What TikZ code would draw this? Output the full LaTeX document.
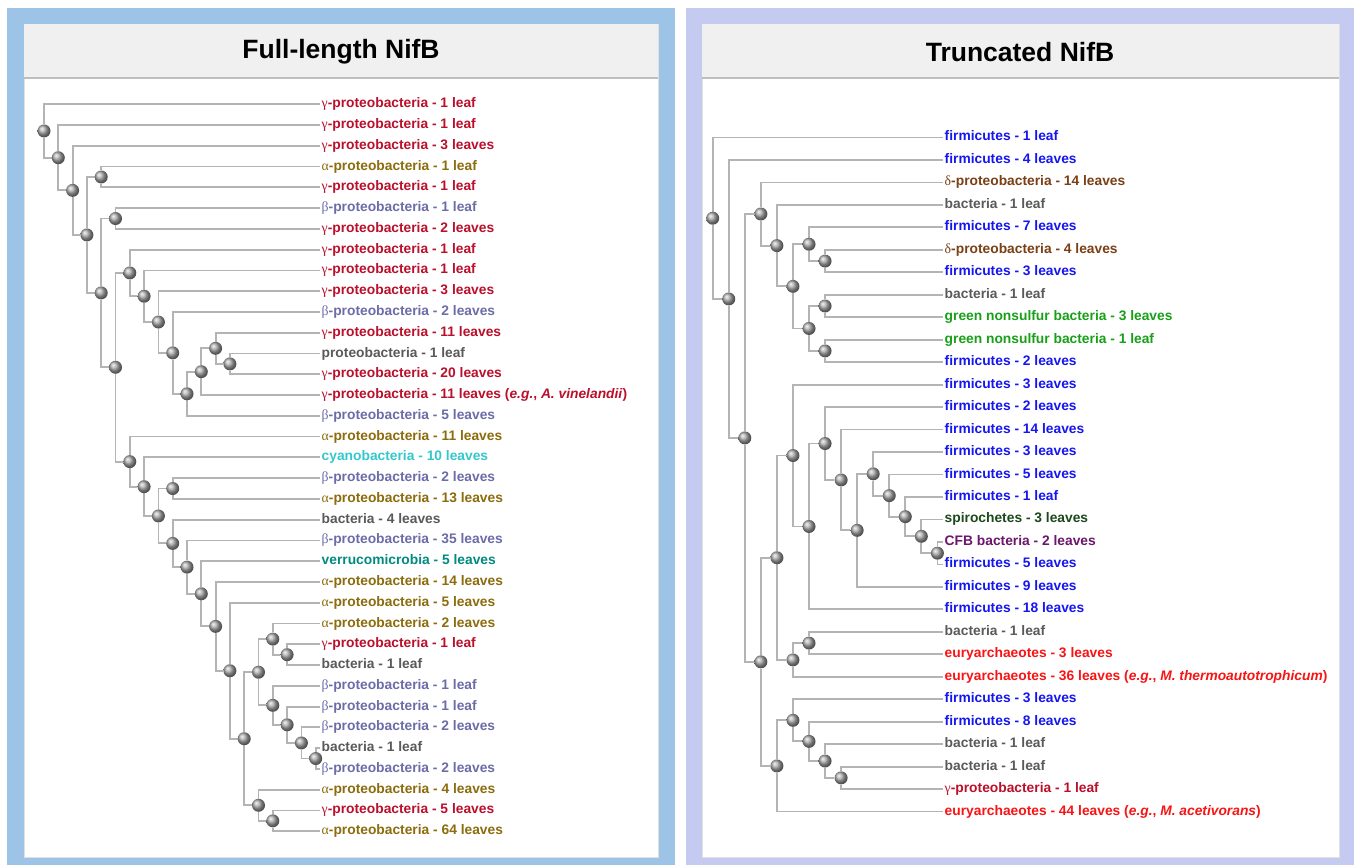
\documentclass[tikz,border=0pt]{standalone}
\usepackage{fontspec}
\setmainfont{Liberation Sans}
\newfontfamily\greekfont{Liberation Serif}

\definecolor{gamcol}{RGB}{186,16,44}
\definecolor{alpcol}{RGB}{140,108,12}
\definecolor{betcol}{RGB}{108,108,168}
\definecolor{delcol}{RGB}{122,64,22}
\definecolor{bactcol}{RGB}{90,90,90}
\definecolor{cyancol}{RGB}{52,200,205}
\definecolor{verrcol}{RGB}{0,138,128}
\definecolor{firmcol}{RGB}{22,22,240}
\definecolor{greencol}{RGB}{24,160,24}
\definecolor{spircol}{RGB}{28,72,28}
\definecolor{cfbcol}{RGB}{108,22,108}
\definecolor{eurycol}{RGB}{248,20,20}
\definecolor{leftrim}{RGB}{157,195,230}
\definecolor{rightrim}{RGB}{196,202,240}
\definecolor{headgray}{RGB}{240,240,240}
\definecolor{rulegray}{RGB}{190,190,190}
\definecolor{linegray}{RGB}{180,180,180}
\definecolor{ballgray}{RGB}{170,170,170}

\newcommand{\ggam}{{\greekfont\mdseries γ}}
\newcommand{\galp}{{\greekfont\mdseries α}}
\newcommand{\gbet}{{\greekfont\mdseries β}}
\newcommand{\gdel}{{\greekfont\mdseries δ}}

\pgfdeclarelayer{panel}
\pgfdeclarelayer{edges}
\pgfsetlayers{panel,edges,main}

\begin{document}
\begin{tikzpicture}[x=1pt, y=-1pt,
   branch/.style={draw=linegray, line width=1.8pt},
   joint/.style={circle, inner sep=0pt, minimum size=13pt, shading=ball, ball color=ballgray},
   taxon/.style={anchor=west, inner sep=1.5pt, text height=10pt, text depth=3pt,
      font=\fontsize{13.8}{16}\selectfont\bfseries},
   paneltitle/.style={font=\fontsize{26.5}{30}\selectfont\bfseries},
   headrule/.style={draw=rulegray, line width=2.5pt}]
\useasboundingbox (0,0) rectangle (1354,865);
\begin{pgfonlayer}{panel}
  \fill[leftrim] (7,8) rectangle (675,865);
  \fill[rightrim] (686,8) rectangle (1354,865);
  \filldraw[fill=white, draw=black!12] (24,24) rectangle (658,857);
  \filldraw[fill=white, draw=black!12] (702,24) rectangle (1339,857);
  \fill[headgray] (24,24) rectangle (658,78);
  \fill[headgray] (702,24) rectangle (1339,78);
  \draw[headrule] (24,78) -- (658,78);
  \draw[headrule] (702,78) -- (1339,78);
\end{pgfonlayer}
\node[paneltitle] (fhead) at (341,52) {Full-length NifB};
\node[paneltitle] (thead) at (1020,52) {Truncated NifB};

\begin{scope}[shift={(44,83.5)}, x=14.3pt, y=-20.77pt]
  \foreach [count=\i] \c/\lab in {
     gamcol/{\ggam-proteobacteria - 1 leaf},
     gamcol/{\ggam-proteobacteria - 1 leaf},
     gamcol/{\ggam-proteobacteria - 3 leaves},
     alpcol/{\galp-proteobacteria - 1 leaf},
     gamcol/{\ggam-proteobacteria - 1 leaf},
     betcol/{\gbet-proteobacteria - 1 leaf},
     gamcol/{\ggam-proteobacteria - 2 leaves},
     gamcol/{\ggam-proteobacteria - 1 leaf},
     gamcol/{\ggam-proteobacteria - 1 leaf},
     gamcol/{\ggam-proteobacteria - 3 leaves},
     betcol/{\gbet-proteobacteria - 2 leaves},
     gamcol/{\ggam-proteobacteria - 11 leaves},
     bactcol/{proteobacteria - 1 leaf},
     gamcol/{\ggam-proteobacteria - 20 leaves},
     gamcol/{\ggam-proteobacteria - 11 leaves (\textit{e.g.}, \textit{A. vinelandii})},
     betcol/{\gbet-proteobacteria - 5 leaves},
     alpcol/{\galp-proteobacteria - 11 leaves},
     cyancol/{cyanobacteria - 10 leaves},
     betcol/{\gbet-proteobacteria - 2 leaves},
     alpcol/{\galp-proteobacteria - 13 leaves},
     bactcol/{bacteria - 4 leaves},
     betcol/{\gbet-proteobacteria - 35 leaves},
     verrcol/{verrucomicrobia - 5 leaves},
     alpcol/{\galp-proteobacteria - 14 leaves},
     alpcol/{\galp-proteobacteria - 5 leaves},
     alpcol/{\galp-proteobacteria - 2 leaves},
     gamcol/{\ggam-proteobacteria - 1 leaf},
     bactcol/{bacteria - 1 leaf},
     betcol/{\gbet-proteobacteria - 1 leaf},
     betcol/{\gbet-proteobacteria - 1 leaf},
     betcol/{\gbet-proteobacteria - 2 leaves},
     bactcol/{bacteria - 1 leaf},
     betcol/{\gbet-proteobacteria - 2 leaves},
     alpcol/{\galp-proteobacteria - 4 leaves},
     gamcol/{\ggam-proteobacteria - 5 leaves},
     alpcol/{\galp-proteobacteria - 64 leaves}}
    \node[taxon, text=\c] (fl\i) at (19.3,\i) {\lab};
  \foreach \nm/\dd/\yy in {f0/0/2.286, f1/1/3.573, f2/2/5.145, f3/3/7.291,
     f4/4/4.5, f5/4/10.082, f6/5/6.5, f7/5/13.663, f8/6/9.121, f9/7/10.242,
     f10/8/11.484, f11/9/12.969, f12/10/14.938, f13/11/13.875, f14/12/12.75,
     f15/13/13.5, f17/6/18.205, f18/7/19.411, f19/8/20.821, f20/9/19.5,
     f21/9/22.142, f22/10/23.284, f23/11/24.568, f24/12/26.137, f25/13/28.273,
     f26/14/31.547, f27/15/28.344, f28/16/26.75, f29/17/27.5, f30/16/29.938,
     f31/17/30.875, f33/18/31.75, f34/19/32.5, f32/15/34.75, f35/16/35.5}
    \node[joint] (\nm) at (\dd,\yy) {};
  \begin{pgfonlayer}{edges}
  \foreach \pa/\ca/\cb in {f0/fl1/f1, f1/fl2/f2, f2/fl3/f3, f3/f4/f5,
     f4/fl4/fl5, f5/f6/f7, f6/fl6/fl7, f7/f8/f17, f8/fl8/f9, f9/fl9/f10,
     f10/fl10/f11, f11/fl11/f12, f12/f13/fl16, f13/f14/fl15, f14/fl12/f15,
     f15/fl13/fl14, f17/fl17/f18, f18/fl18/f19, f19/f20/f21, f20/fl19/fl20,
     f21/fl21/f22, f22/fl22/f23, f23/fl23/f24, f24/fl24/f25, f25/fl25/f26,
     f26/f27/f32, f27/f28/f30, f28/fl26/f29, f29/fl27/fl28, f30/fl29/f31,
     f31/fl30/f33, f33/fl31/f34, f34/fl32/fl33, f32/fl34/f35, f35/fl35/fl36}
    \draw[branch] (\ca) -| (\pa) |- (\cb);
  \end{pgfonlayer}
\end{scope}

\begin{scope}[shift={(712.7,115)}, x=16.05pt, y=-22.47pt]
  \foreach [count=\i] \c/\lab in {
     firmcol/{firmicutes - 1 leaf},
     firmcol/{firmicutes - 4 leaves},
     delcol/{\gdel-proteobacteria - 14 leaves},
     bactcol/{bacteria - 1 leaf},
     firmcol/{firmicutes - 7 leaves},
     delcol/{\gdel-proteobacteria - 4 leaves},
     firmcol/{firmicutes - 3 leaves},
     bactcol/{bacteria - 1 leaf},
     greencol/{green nonsulfur bacteria - 3 leaves},
     greencol/{green nonsulfur bacteria - 1 leaf},
     firmcol/{firmicutes - 2 leaves},
     firmcol/{firmicutes - 3 leaves},
     firmcol/{firmicutes - 2 leaves},
     firmcol/{firmicutes - 14 leaves},
     firmcol/{firmicutes - 3 leaves},
     firmcol/{firmicutes - 5 leaves},
     firmcol/{firmicutes - 1 leaf},
     spircol/{spirochetes - 3 leaves},
     cfbcol/{CFB bacteria - 2 leaves},
     firmcol/{firmicutes - 5 leaves},
     firmcol/{firmicutes - 9 leaves},
     firmcol/{firmicutes - 18 leaves},
     bactcol/{bacteria - 1 leaf},
     eurycol/{euryarchaeotes - 3 leaves},
     eurycol/{euryarchaeotes - 36 leaves (\textit{e.g.}, \textit{M. thermoautotrophicum})},
     firmcol/{firmicutes - 3 leaves},
     firmcol/{firmicutes - 8 leaves},
     bactcol/{bacteria - 1 leaf},
     bactcol/{bacteria - 1 leaf},
     gamcol/{\ggam-proteobacteria - 1 leaf},
     eurycol/{euryarchaeotes - 44 leaves (\textit{e.g.}, \textit{M. acetivorans})}}
    \node[taxon, text=\c] (tl\i) at (14.35,\i) {\lab};
  \foreach \nm/\dd/\yy in {t0/0/4.593, t1/1/8.186, t2/2/14.371, t3/3/4.406,
     t4/4/5.813, t5/5/7.625, t6/6/5.75, t7/7/6.5, t8/6/9.5, t9/7/8.5,
     t10/7/10.5, t15/3/24.336, t16/4/19.703, t17/5/15.155, t18/6/18.311,
     t19/7/14.621, t20/8/16.242, t21/9/18.484, t22/10/15.969, t23/11/16.938,
     t24/12/17.875, t25/13/18.75, t26/14/19.5, t27/5/24.25, t28/6/23.5,
     t30/4/28.969, t31/5/26.938, t32/6/27.875, t33/7/28.75, t34/8/29.5}
    \node[joint] (\nm) at (\dd,\yy) {};
  \begin{pgfonlayer}{edges}
  \foreach \pa/\ca/\cb in {t0/tl1/t1, t1/tl2/t2, t2/t3/t15, t3/tl3/t4,
     t4/tl4/t5, t5/t6/t8, t6/tl5/t7, t7/tl6/tl7, t8/t9/t10, t9/tl8/tl9,
     t10/tl10/tl11, t15/t16/t30, t16/t17/t27, t17/tl12/t18, t18/t19/tl22,
     t19/tl13/t20, t20/tl14/t21, t21/t22/tl21, t22/tl15/t23, t23/tl16/t24,
     t24/tl17/t25, t25/tl18/t26, t26/tl19/tl20, t27/t28/tl25, t28/tl23/tl24,
     t30/t31/tl31, t31/tl26/t32, t32/tl27/t33, t33/tl28/t34, t34/tl29/tl30}
    \draw[branch] (\ca) -| (\pa) |- (\cb);
  \end{pgfonlayer}
\end{scope}
\end{tikzpicture}
\end{document}
